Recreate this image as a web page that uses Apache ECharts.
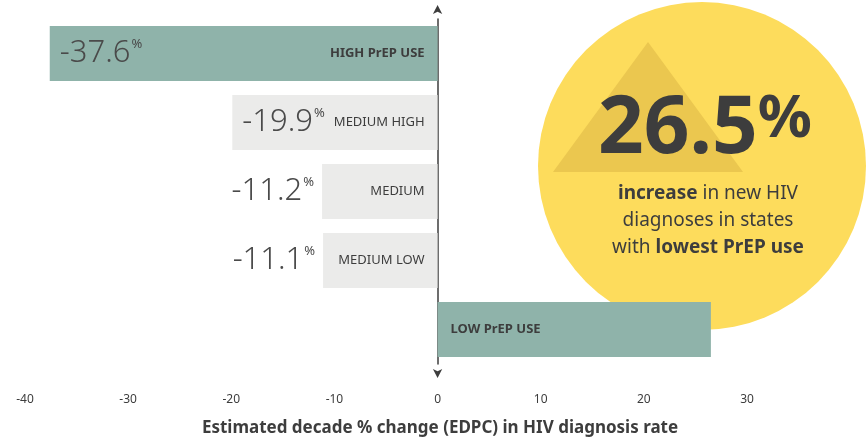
<!DOCTYPE html>
<html>
<head>
<meta charset="utf-8">
<script src="https://cdn.jsdelivr.net/npm/echarts@6/dist/echarts.min.js"></script>
<style>
html,body{margin:0;padding:0;background:#fff;}
#chart{width:866px;height:438px;}
</style>
</head>
<body>
<div id="chart"></div>
<script>
var categories = ['HIGH PrEP USE', 'MEDIUM HIGH', 'MEDIUM', 'MEDIUM LOW', 'LOW PrEP USE'];
var values = [-37.6, -19.9, -11.2, -11.1, 26.5];
var barColors = ['#8fb3aa', '#ebebea', '#ebebea', '#ebebea', '#8fb3aa'];
var boldCats = [true, false, false, false, true];
var xTicks = [-40, -30, -20, -10, 0, 10, 20, 30];

var chart = echarts.init(document.getElementById('chart'));
var font = '"Noto Sans", sans-serif';

var valueData = [];
var nameData = [];
for (var i = 0; i < values.length; i++) {
	var v = values[i];
	var valLabel = { show: false };
	if (v < 0) {
		valLabel = {
			show: true,
			position: v < -15 ? 'insideLeft' : 'left',
			distance: v < -15 ? 10 : 8,
			formatter: function(p) { return '{n|' + p.value.toFixed(1) + '}{p|%}'; },
			rich: {
				n: { fontSize: 31, fontWeight: 300, color: '#4a4a4a', fontFamily: font },
				p: { fontSize: 13, color: '#4a4a4a', fontFamily: font, verticalAlign: 'top', padding: [0, 0, 12, 1] }
			}
		};
	}
	valueData.push({ value: v, itemStyle: { color: barColors[i] }, label: valLabel });
	nameData.push({
		value: v,
		label: {
			show: true,
			position: v < 0 ? 'insideRight' : 'insideLeft',
			distance: 13,
			formatter: categories[i],
			fontFamily: font,
			fontSize: 13,
			fontWeight: boldCats[i] ? 'bold' : 'normal',
			color: '#3d3d3d'
		}
	});
}

var option = {
	animation: false,
	grid: { left: 25, right: 119, top: 19, bottom: 74, containLabel: false },
	xAxis: {
		type: 'value', min: -40, max: 30, interval: 10,
		splitLine: { show: false }, axisLine: { show: false }, axisTick: { show: false },
		axisLabel: { color: '#3d3d3d', fontSize: 12, fontFamily: font, margin: 30,
			customValues: xTicks }
	},
	yAxis: {
		type: 'category', data: categories, inverse: true,
		axisLabel: { show: false }, axisTick: { show: false },
		axisLine: { show: true, onZero: true, lineStyle: { color: '#3d3d3d', width: 1.5 },
			symbol: ['arrow', 'arrow'], symbolSize: [7, 9], symbolOffset: [-14, 14] }
	},
	graphic: [
		{ type: 'circle', z: 0, shape: { cx: 702, cy: 166, r: 164 }, style: { fill: '#fddc5c' } },
		{ type: 'polygon', z: 0, shape: { points: [[648, 42], [553, 172], [743, 172]] }, style: { fill: '#ebc74f' } },
		{ type: 'text', z: 1, left: 598, top: 90, style: {
			text: '{n|26.5}{p|%}', fill: '#3d3d3d', fontFamily: font,
			rich: {
				n: { fontSize: 80, fontWeight: 'bold', fill: '#3d3d3d', fontFamily: font },
				p: { fontSize: 60, fontWeight: 'bold', fill: '#3d3d3d', fontFamily: font, verticalAlign: 'top', padding: [0, 0, 14, 0] }
			}
		} },
		{ type: 'text', z: 1, x: 708, y: 180, style: {
			text: '{b|increase} in new HIV\ndiagnoses in states\nwith {b|lowest PrEP use}',
			fontSize: 19, fill: '#3d3d3d', fontFamily: font, lineHeight: 27, align: 'center',
			rich: { b: { fontSize: 19, fontWeight: 'bold', fill: '#3d3d3d', fontFamily: font, lineHeight: 27 } }
		} },
		{ type: 'text', z: 1, x: 440, y: 428, style: {
			text: 'Estimated decade % change (EDPC) in HIV diagnosis rate',
			fontSize: 17, fontWeight: 'bold', fill: '#3d3d3d', fontFamily: font,
			align: 'center', verticalAlign: 'middle'
		} }
	],
	series: [
		{ type: 'bar', barWidth: 55, data: valueData, z: 2 },
		{ type: 'bar', barWidth: 55, barGap: '-100%', data: nameData, itemStyle: { color: 'transparent' }, z: 3 }
	]
};
chart.setOption(option);
</script>
</body>
</html>
